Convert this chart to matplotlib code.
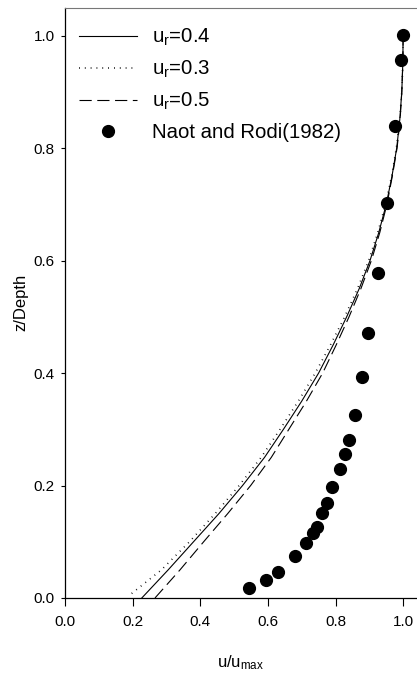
import numpy as np
import matplotlib
matplotlib.use('Agg')
import matplotlib.pyplot as plt

plt.rcParams['font.family'] = ['Liberation Sans', 'DejaVu Sans']
plt.rcParams['mathtext.default'] = 'regular'

# model profiles (z/Depth vs u/umax)
z_model = [0.0, 0.05, 0.1, 0.15, 0.2, 0.25, 0.3, 0.35, 0.4, 0.45, 0.5,
           0.55, 0.6, 0.65, 0.7, 0.75, 0.8, 0.85, 0.9, 0.95, 1.0]
u_r04 = [0.227, 0.305, 0.380, 0.455, 0.525, 0.590, 0.646, 0.700, 0.750, 0.793, 0.833,
         0.870, 0.902, 0.928, 0.950, 0.967, 0.981, 0.990, 0.996, 0.999, 1.0]
z_r03 = [0.008, 0.05, 0.1, 0.15, 0.2, 0.25, 0.3, 0.35, 0.4, 0.45, 0.5,
         0.55, 0.6, 0.65, 0.7, 0.75, 0.8, 0.85, 0.9, 0.95, 1.0]
u_r03 = [0.197, 0.285, 0.368, 0.444, 0.515, 0.580, 0.636, 0.690, 0.740, 0.785, 0.827,
         0.865, 0.898, 0.925, 0.948, 0.966, 0.980, 0.990, 0.996, 0.999, 1.0]
u_r05 = [0.266, 0.340, 0.410, 0.481, 0.549, 0.610, 0.662, 0.714, 0.762, 0.802, 0.840,
         0.875, 0.906, 0.931, 0.952, 0.968, 0.982, 0.991, 0.996, 0.999, 1.0]

# Naot and Rodi (1982) measurements
u_exp = [0.545, 0.594, 0.630, 0.680, 0.713, 0.732, 0.745, 0.761, 0.774, 0.791, 0.812,
         0.828, 0.839, 0.858, 0.879, 0.896, 0.925, 0.952, 0.976, 0.995, 0.999]
z_exp = [0.018, 0.032, 0.047, 0.074, 0.097, 0.116, 0.127, 0.152, 0.169, 0.198, 0.230,
         0.256, 0.281, 0.326, 0.393, 0.472, 0.578, 0.703, 0.839, 0.956, 1.002]

fig = plt.figure(figsize=(4.17, 6.77), dpi=100)
ax = fig.add_axes([0.156, 0.1167, 0.844, 0.8722])

ax.plot(u_r04, z_model, color='black', lw=0.8, label='u$_r$=0.4')
ax.plot(u_r03, z_r03, color='black', lw=1.2, linestyle=(0, (0.5, 3.0)), label='u$_r$=0.3')
ax.plot(u_r05, z_model, color='black', lw=0.8, linestyle=(0, (11, 5)), label='u$_r$=0.5')
ax.plot(u_exp, z_exp, 'o', color='black', markersize=8.5, label='Naot and Rodi(1982)')

ax.set_xlim(0, 1.041)
ax.set_ylim(0, 1.05)
ax.set_xticks([0.0, 0.2, 0.4, 0.6, 0.8, 1.0])
ax.set_yticks([0.0, 0.2, 0.4, 0.6, 0.8, 1.0])
ax.xaxis.set_major_formatter(matplotlib.ticker.FormatStrFormatter('%.1f'))
ax.yaxis.set_major_formatter(matplotlib.ticker.FormatStrFormatter('%.1f'))
ax.tick_params(axis='x', direction='out', length=6, width=0.8, labelsize=11, pad=6)
ax.tick_params(axis='y', direction='out', length=3, width=0.8, labelsize=11, pad=4.5)

ax.spines['right'].set_visible(False)
ax.spines['top'].set_color('#777777')
ax.spines['top'].set_linewidth(0.8)
for s in ['left', 'bottom']:
    ax.spines[s].set_linewidth(0.9)

ax.set_xlabel('u/u$_{max}$', fontsize=12, labelpad=18)
ax.set_ylabel('z/Depth', fontsize=12, labelpad=4)

ax.legend(loc='upper left', bbox_to_anchor=(0.041, 0.967), frameon=False, fontsize=14.7,
          handlelength=2.84, handletextpad=0.72, labelspacing=0.52, borderpad=0,
          borderaxespad=0)

fig.savefig('out.png', dpi=100)
